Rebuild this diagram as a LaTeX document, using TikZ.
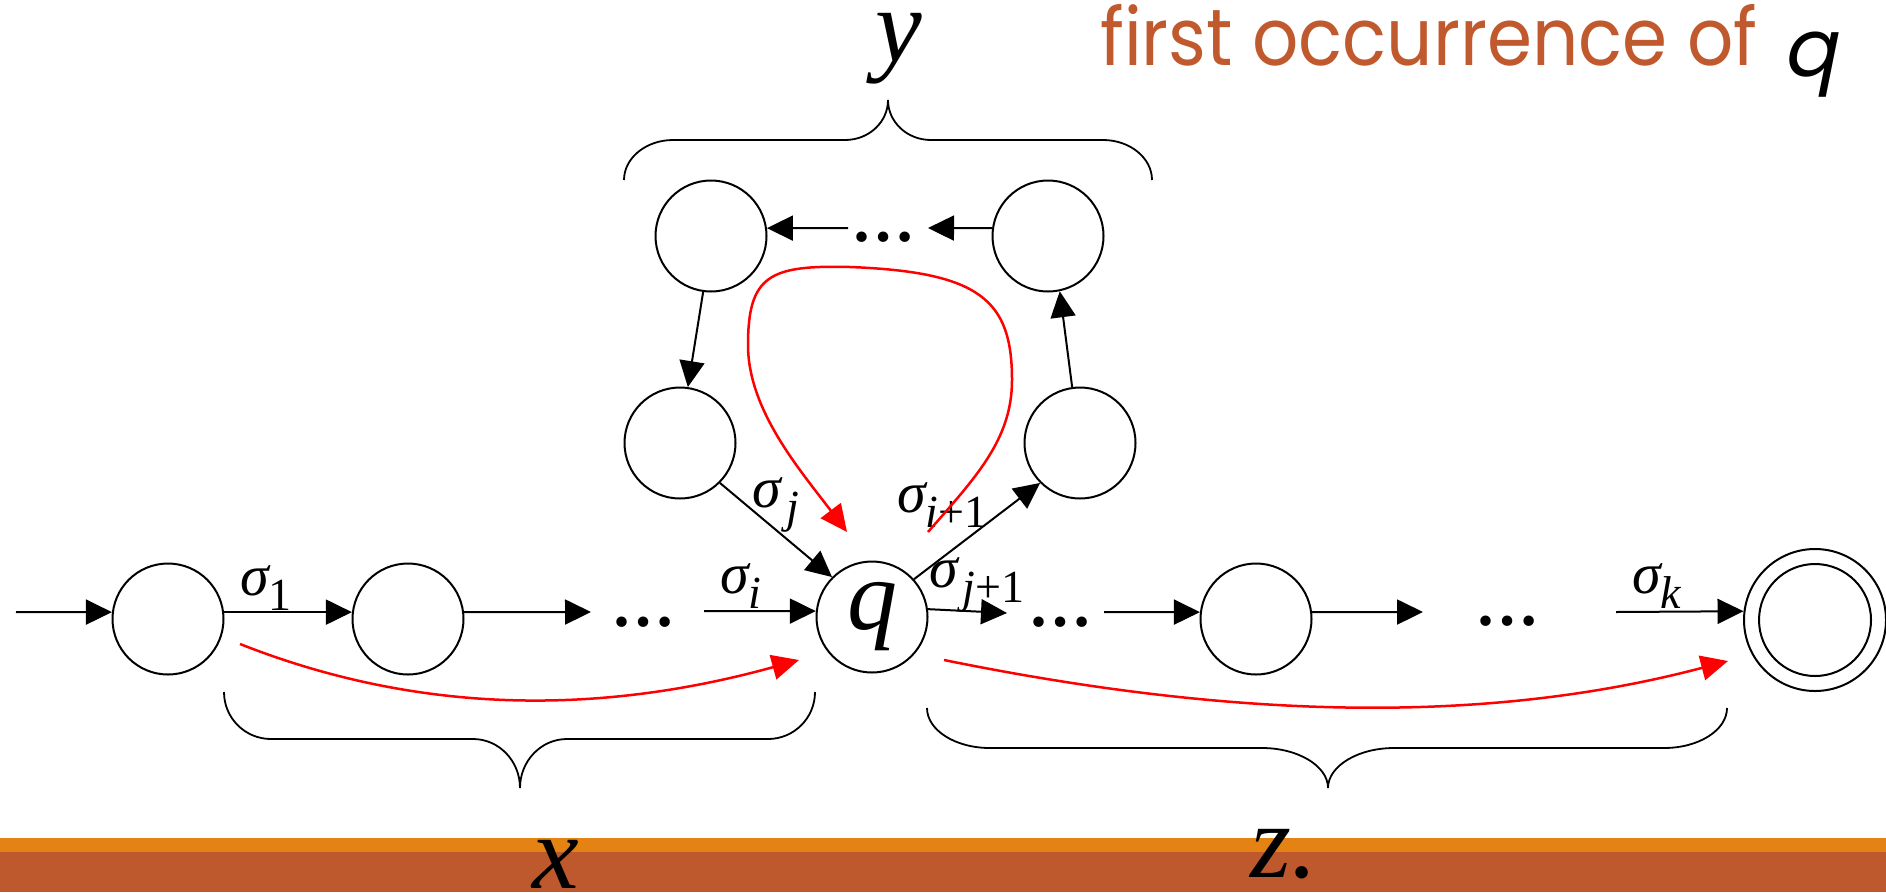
\documentclass[tikz,border=0pt]{standalone}
\usepackage{fontspec}
\usepackage{graphicx}
\setmainfont{Liberation Serif}
\newfontfamily\csf{Poppins}
\newfontfamily\csq[FakeSlant=0.2]{Poppins}
\usetikzlibrary{arrows.meta}
\definecolor{bandorange}{RGB}{228,130,20}
\definecolor{bandbrown}{RGB}{190,89,45}
\definecolor{titlebrown}{RGB}{192,90,46}
\newcommand\sgl[2][0pt]{{\itshape\fontsize{58}{58}\selectfont σ\hspace{#1}\raisebox{-15pt}{\fontsize{46}{46}\selectfont #2}}}
\begin{document}
\begin{tikzpicture}[x=1pt,y=-1pt,
  state/.style={circle,draw,line width=2pt,minimum size=111pt,inner sep=0pt},
  arr/.style={line width=2pt,-{Triangle[length=26pt,width=25pt]}},
  bracepath/.style={line width=1.8pt},
  redarr/.style={red,line width=2.5pt,-{Triangle[length=27pt,width=25pt]}},
  lbl/.style={anchor=base west,inner sep=0pt},
  bigletter/.style={font=\itshape\fontsize{105}{105}\selectfont,inner sep=0pt,anchor=base},
  dotsnode/.style={font=\bfseries\fontsize{64}{64}\selectfont,inner sep=0pt,anchor=base}]
\useasboundingbox (0,0) rectangle (1886,892);
% bottom band
\fill[bandorange] (0,838) rectangle (1886,853);
\fill[bandbrown] (0,852) rectangle (1886,892);
% states
\node[state] (S1) at (168,619) {};
\node[state] (S2) at (408,619) {};
\node[state,font=\itshape\fontsize{100}{100}\selectfont] (q) at (872,617) {q};
\node[state] (S3) at (1256,619) {};
\node[circle,draw,line width=2pt,minimum size=142pt,inner sep=0pt] (F) at (1815,620) {};
\draw[line width=2pt] (F.center) circle[radius=56pt];
\node[state] (TL) at (711,236) {};
\node[state] (TR) at (1048,236) {};
\node[state] (ML) at (680,443) {};
\node[state] (MR) at (1080,443) {};
% free ends
\coordinate (init) at (16,612);
\coordinate (d1e) at (591,612);
\coordinate (d1s) at (704,611);
\coordinate (d2e) at (1007,613);
\coordinate (d3s) at (1104,612);
\coordinate (d3e) at (1423,612);
\coordinate (d4s) at (1616,612);
\coordinate (t1e) at (928,228);
\coordinate (t1s) at (848,228);
% dots
\node[dotsnode] (dotA) at (643,626) {…};
\node[dotsnode] (dotB) at (1060,626) {…};
\node[dotsnode] (dotC) at (1507,625) {…};
\node[dotsnode] (dotT) at (883,241) {…};
% black arrows
\draw[arr] (init) -- (S1.173);
\draw[arr] (S1.7) -- (S2.173);
\draw[arr] (S2.7) -- (d1e);
\draw[arr] (d1s) -- (q.174);
\draw[arr] (q.8) -- (d2e);
\draw[arr] (d3s) -- (S3.173);
\draw[arr] (S3.7) -- (d3e);
\draw[arr] (d4s) -- (F.173.5);
\draw[arr] (ML.-45) -- (q.135);
\draw[arr] (q.42) -- (MR.225);
\draw[arr] (MR.98) -- (TR.-78);
\draw[arr] (TR.172) -- (t1e);
\draw[arr] (t1s) -- (TL.8);
\draw[arr] (TL.-98) -- (ML.82);
% labels
\node[lbl] (l1) at (240,595) {\sgl{\upshape 1}};
\node[lbl] (li) at (720,593) {\sgl{i}};
\node[lbl] (lj) at (752,507) {\sgl[6pt]{j}};
\node[lbl] (li1) at (897,512) {\sgl{i\upshape +1}};
\node[lbl] (lj1) at (929,587) {\sgl[5pt]{j\upshape +1}};
\node[lbl] (lk) at (1632,593) {\sgl{k}};
% braces
\draw[bracepath] (624,180) .. controls (624,158) and (646,140) .. (673,140) -- (845,140)
  .. controls (869,140) and (888,122) .. (888,100)
  .. controls (888,122) and (907,140) .. (931,140) -- (1103,140)
  .. controls (1130,140) and (1152,158) .. (1152,180);
\draw[bracepath] (224,692) .. controls (224,718) and (245,739) .. (271,739) -- (473,739)
  .. controls (499,739) and (520,761) .. (520,788)
  .. controls (520,761) and (541,739) .. (567,739) -- (768,739)
  .. controls (794,739) and (815,718) .. (815,692);
\draw[bracepath] (927,708) .. controls (927,730) and (955,748) .. (990,748) -- (1262,748)
  .. controls (1298,748) and (1328,766) .. (1328,788)
  .. controls (1328,766) and (1358,748) .. (1394,748) -- (1664,748)
  .. controls (1699,748) and (1727,730) .. (1727,708);
% brace letters
\node[bigletter] (ylab) at (899,61) {y};
\node[bigletter] (xlab) at (556,888) {x};
\node[bigletter,anchor=base west] (zlab) at (1250,877) {z.};
% red curves
\draw[redarr] (240,644) .. controls (420,715) and (600,715) .. (799,660);
\draw[redarr] (944,660) .. controls (1224,717) and (1478,727) .. (1728,661);
\draw[redarr] (928,532) .. controls (975,478) and (1012,440) .. (1012,380)
  .. controls (1012,300) and (980,272) .. (850,267)
  .. controls (770,265) and (748,275) .. (748,345)
  .. controls (748,410) and (800,470) .. (847,532);
% title
\node[anchor=base west,inner sep=0pt,text=titlebrown] (title) at (1100,65)
  {\resizebox{657pt}{\height}{\csf\fontsize{80}{80}\selectfont first occurrence of}};
\node[anchor=base west,inner sep=0pt] (titleq) at (1782,76) {\csq\fontsize{80}{80}\selectfont q};
\end{tikzpicture}
\end{document}
